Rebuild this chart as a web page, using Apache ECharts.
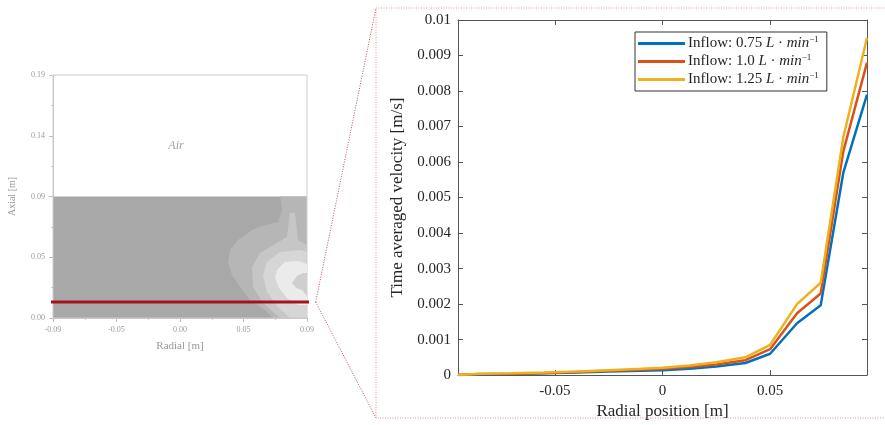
<!DOCTYPE html>
<html>
<head>
<meta charset="utf-8">
<script src="https://cdn.jsdelivr.net/npm/echarts@6/dist/echarts.min.js"></script>
<style>
  html, body { margin: 0; padding: 0; background: #ffffff; }
  #chart { width: 885px; height: 425px; }
</style>
</head>
<body>
<div id="chart"></div>
<script>
// ---- Velocity profile along the sampling line (right panel) ----
const radialPos = [-0.095, -0.085, -0.07, -0.055, -0.04, -0.025, -0.01, 0.0, 0.0125, 0.025, 0.0385, 0.05, 0.0625, 0.0735, 0.084, 0.095];
const flow075 = [0, 0.00002, 0.00003, 0.00005, 0.00007, 0.0001, 0.00012, 0.00014, 0.00018, 0.00024, 0.00034, 0.0006, 0.00146, 0.00197, 0.0057, 0.0079];
const flow100 = [0, 0.00003, 0.00004, 0.00006, 0.00009, 0.00012, 0.00015, 0.00018, 0.00023, 0.0003, 0.00042, 0.00073, 0.00174, 0.0023, 0.0063, 0.0088];
const flow125 = [0, 0.00004, 0.00005, 0.00007, 0.0001, 0.00014, 0.00018, 0.00021, 0.00027, 0.00036, 0.0005, 0.00085, 0.002, 0.0026, 0.0067, 0.0095];
const flowRates = ['0.75', '1.0', '1.25'];
const profileTicksX = [-0.05, 0, 0.05];
const profileTickLabelsX = ['-0.05', '0', '0.05'];

// ---- Tank cross-section (left panel) ----
const domainTicks = [-0.095, -0.0475, 0, 0.0475, 0.095];
const domainTickLabelsX = ['-0.09', '-0.05', '0.00', '0.05', '0.09'];
const axialTicks = [0, 0.0475, 0.095, 0.1425, 0.19];
const axialTickLabels = ['0.00', '0.05', '0.09', '0.14', '0.19'];
const liquidLevel = 0.095;
const sampleHeight = 0.0125;
const sampleLineExtent = [-0.1005, 0.1015];
const airLabelPos = [-0.003, 0.1345];

// Contour bands of the velocity magnitude, outermost first (data coordinates)
const band1 = [[0.075,0.095],[0.095,0.095],[0.095,0],[0.0696,0],[0.0636,0.0063],[0.0524,0.0141],[0.0449,0.0242],[0.0389,0.0336],[0.0359,0.0438],[0.0374,0.0532],[0.0434,0.061],[0.0539,0.0688],[0.0613,0.0719],[0.0733,0.0751],[0.0763,0.0845]];
const band2 = [[0.0823,0.0821],[0.086,0.0821],[0.0883,0.061],[0.095,0.0571],[0.095,0],[0.0748,0],[0.0621,0.0117],[0.0546,0.0242],[0.0539,0.0399],[0.0598,0.0508],[0.080,0.0633]];
const band3 = [[0.0898,0.0532],[0.095,0.0516],[0.095,0],[0.0823,0],[0.0733,0.0086],[0.0651,0.0203],[0.0621,0.0336],[0.0651,0.0438],[0.0748,0.0516]];
const band4 = [[0.0726,0.0375],[0.0785,0.0438],[0.0883,0.0446],[0.095,0.0422],[0.095,0.0102],[0.0883,0.0102],[0.080,0.0156],[0.074,0.0235],[0.0711,0.0313]];
const innerHook = [[0.0838,0.0274],[0.0875,0.0328],[0.092,0.0352],[0.095,0.0352],[0.095,0.0172],[0.0913,0.0219],[0.0868,0.0235]];
const liquidDomain = [[-0.095,0],[0.095,0],[0.095,liquidLevel],[-0.095,liquidLevel]];

const SERIF = '"Liberation Serif", "DejaVu Serif", serif';
const chart = echarts.init(document.getElementById('chart'), null, { renderer: 'canvas' });

function polygonSeries(points, fill, z) {
  return {
    type: 'custom',
    xAxisIndex: 0, yAxisIndex: 0,
    coordinateSystem: 'cartesian2d',
    z: z,
    silent: true,
    clip: true,
    data: [[points[0][0], points[0][1]]],
    renderItem: function (params, api) {
      return {
        type: 'polygon',
        shape: { points: points.map(p => api.coord(p)) },
        style: { fill: fill, stroke: null }
      };
    }
  };
}

function tickLabel(values, labels) {
  return function (v) {
    let best = 0;
    for (let i = 1; i < values.length; i++) {
      if (Math.abs(values[i] - v) < Math.abs(values[best] - v)) best = i;
    }
    return labels[best];
  };
}

const seriesNames = flowRates.map(r => 'Inflow: ' + r + ' L\u00B7min\u207B\u00B9');
const seriesData = [flow075, flow100, flow125];
const seriesColors = ['#0072BD', '#D95319', '#EDB120'];

const leftAxisStyle = {
  axisLine: { show: true, onZero: false, lineStyle: { color: '#c4c4c4', width: 1 } },
  axisTick: { show: true, inside: false, length: 4, lineStyle: { color: '#bdbdbd' } },
  minorTick: { show: true, splitNumber: 2, length: 2, lineStyle: { color: '#c8c8c8' } },
  splitLine: { show: false },
  minorSplitLine: { show: false }
};

const option = {
  backgroundColor: '#ffffff',
  animation: false,
  grid: [
    { left: 53, top: 75, width: 254, height: 243, show: true, borderColor: '#cccccc', borderWidth: 1, backgroundColor: 'transparent', z: 5 },
    { left: 458, top: 20, right: 18, bottom: 49, show: false }
  ],
  xAxis: [
    Object.assign({
      gridIndex: 0, type: 'value', min: -0.095, max: 0.095, interval: 0.0475, position: 'bottom',
      name: 'Radial [m]', nameLocation: 'middle', nameGap: 23,
      nameTextStyle: { fontFamily: SERIF, fontSize: 11, color: '#9a9a9a' },
      axisLabel: { fontFamily: SERIF, fontSize: 8, color: '#9a9a9a', margin: 8,
        formatter: tickLabel(domainTicks, domainTickLabelsX) }
    }, leftAxisStyle),
    {
      gridIndex: 1, type: 'value', min: -0.095, max: 0.095, position: 'bottom',
      name: 'Radial position [m]', nameLocation: 'middle', nameGap: 26,
      nameTextStyle: { fontFamily: SERIF, fontSize: 17, color: '#262626' },
      axisLine: { show: true, onZero: false, lineStyle: { color: '#555555', width: 1 } },
      axisTick: { show: true, inside: true, length: 5, customValues: profileTicksX, lineStyle: { color: '#555555' } },
      axisLabel: { fontFamily: SERIF, fontSize: 15, color: '#262626', margin: 8, customValues: profileTicksX,
        formatter: tickLabel(profileTicksX, profileTickLabelsX) },
      splitLine: { show: false }
    },
    {
      gridIndex: 1, type: 'value', min: -0.095, max: 0.095, position: 'top',
      axisLine: { show: true, onZero: false, lineStyle: { color: '#555555', width: 1 } },
      axisTick: { show: true, inside: true, length: 5, customValues: profileTicksX, lineStyle: { color: '#555555' } },
      axisLabel: { show: false },
      splitLine: { show: false }
    }
  ],
  yAxis: [
    Object.assign({
      gridIndex: 0, type: 'value', min: 0, max: 0.19, interval: 0.0475, position: 'left',
      name: 'Axial [m]', nameLocation: 'middle', nameGap: 36,
      nameTextStyle: { fontFamily: SERIF, fontSize: 10, color: '#9a9a9a' },
      axisLabel: { fontFamily: SERIF, fontSize: 8, color: '#9a9a9a', margin: 8,
        formatter: tickLabel(axialTicks, axialTickLabels) }
    }, leftAxisStyle),
    {
      gridIndex: 1, type: 'value', min: 0, max: 0.01, interval: 0.001, position: 'left',
      name: 'Time averaged velocity [m/s]', nameLocation: 'middle', nameGap: 52,
      nameTextStyle: { fontFamily: SERIF, fontSize: 17, color: '#262626' },
      axisLine: { show: true, onZero: false, lineStyle: { color: '#555555', width: 1 } },
      axisTick: { show: true, inside: true, length: 5, lineStyle: { color: '#555555' } },
      axisLabel: { fontFamily: SERIF, fontSize: 15, color: '#262626', margin: 7,
        formatter: v => (v === 0 ? '0' : String(+v.toFixed(3))) },
      splitLine: { show: false }
    },
    {
      gridIndex: 1, type: 'value', min: 0, max: 0.01, interval: 0.001, position: 'right',
      axisLine: { show: true, onZero: false, lineStyle: { color: '#555555', width: 1 } },
      axisTick: { show: true, inside: true, length: 5, lineStyle: { color: '#555555' } },
      axisLabel: { show: false },
      splitLine: { show: false }
    }
  ],
  legend: {
    data: seriesNames,
    orient: 'vertical',
    left: 635, top: 32,
    itemWidth: 47, itemHeight: 3, itemGap: 1,
    icon: 'rect',
    padding: [3, 8, 3, 3],
    backgroundColor: '#ffffff',
    borderColor: '#333333', borderWidth: 1,
    formatter: function (name) {
      const rate = name.split(' ')[1];
      return '{n|Inflow: ' + rate + ' }{i|L}{n| \u00B7 }{i|min}{s|\u22121}';
    },
    textStyle: {
      padding: [0, 0, 0, -2],
      rich: {
        n: { fontFamily: SERIF, fontSize: 15, color: '#262626', lineHeight: 17 },
        i: { fontFamily: SERIF, fontSize: 15, fontStyle: 'italic', color: '#262626', lineHeight: 17 },
        s: { fontFamily: SERIF, fontSize: 9, color: '#262626', verticalAlign: 'top', lineHeight: 17, padding: [0, 0, 8, 0] }
      }
    }
  },
  series: [
    polygonSeries(liquidDomain, '#a8a8a8', 1),
    polygonSeries(band1, '#b6b6b6', 2),
    polygonSeries(band2, '#c6c6c6', 3),
    polygonSeries(band3, '#d6d6d6', 4),
    polygonSeries(band4, '#ebebeb', 5),
    polygonSeries(innerHook, '#cfcfcf', 6),
    {
      type: 'line', xAxisIndex: 0, yAxisIndex: 0, z: 10, clip: false, silent: true,
      symbol: 'none',
      lineStyle: { color: '#a5121a', width: 3 },
      data: sampleLineExtent.map(x => [x, sampleHeight])
    },
    {
      type: 'scatter', xAxisIndex: 0, yAxisIndex: 0, z: 10, silent: true,
      symbolSize: 0,
      data: [airLabelPos],
      label: { show: true, position: 'inside', formatter: 'Air',
        fontFamily: SERIF, fontStyle: 'italic', fontSize: 12, color: '#8a8a8a' }
    }
  ].concat(seriesData.map((vals, k) => ({
    name: seriesNames[k],
    type: 'line', xAxisIndex: 1, yAxisIndex: 1, z: 3 + k,
    symbol: 'none',
    color: seriesColors[k],
    lineStyle: { color: seriesColors[k], width: 2.5 },
    data: radialPos.map((x, i) => [x, vals[i]])
  })))
};

chart.setOption(option);

// Zoom-in connector from the end of the sampling line to the profile panel frame
const anchor = chart.convertToPixel({ gridIndex: 0 }, [sampleLineExtent[1], sampleHeight]);
const frame = { x: 376, y: 8, w: 530, h: 410 };
chart.setOption({
  graphic: [
    { type: 'rect', silent: true, z: 20,
      shape: { x: frame.x, y: frame.y, width: frame.w, height: frame.h },
      style: { fill: 'none', stroke: '#ec8f8f', lineWidth: 1, lineDash: [1, 1.5] } },
    { type: 'line', silent: true, z: 20,
      shape: { x1: anchor[0], y1: anchor[1], x2: frame.x, y2: frame.y },
      style: { stroke: '#c05454', lineWidth: 1, lineDash: [1, 1.5] } },
    { type: 'line', silent: true, z: 20,
      shape: { x1: anchor[0], y1: anchor[1], x2: frame.x, y2: frame.y + frame.h },
      style: { stroke: '#c05454', lineWidth: 1, lineDash: [1, 1.5] } }
  ]
});
</script>
</body>
</html>
